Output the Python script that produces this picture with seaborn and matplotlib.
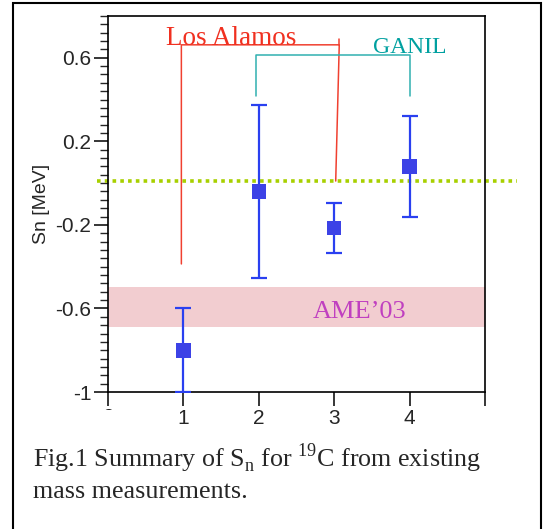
import numpy as np
import seaborn as sns
import matplotlib.pyplot as plt
from matplotlib.patches import Rectangle
from matplotlib.transforms import Bbox, TransformedBbox

# measurements (label index, Sn in MeV, error)
labs = [1, 2, 3, 4]
sn = [-0.80, -0.04, -0.215, 0.08]
err = [0.20, 0.415, 0.12, 0.24]

ame_lo, ame_hi = -0.69, -0.495   # AME'03 band
sn_ref = 0.01                    # dotted reference line

# bracket lines for the labels
la_x = [0.973, 0.973, 3.067, 3.02]
la_y = [-0.387, 0.662, 0.662, 0.01]
la_tip_y = 0.69
ga_x = [1.96, 1.96, 4.0, 4.0]
ga_y = [0.415, 0.614, 0.614, 0.415]

yticks = [0.6, 0.2, -0.2, -0.6, -1.0]
ytick_labels = ['0.6', '0.2', '-0.2', '-0.6', '-1']
xticks = [0, 1, 2, 3, 4, 5]
xtick_labels = ['', '1', '2', '3', '4', '']

sns.set_style('ticks')
plt.rcParams['font.family'] = ['Liberation Sans', 'DejaVu Sans']
plt.rcParams['mathtext.fontset'] = 'custom'
plt.rcParams['mathtext.rm'] = 'Liberation Serif'

fig = plt.figure(figsize=(5.52, 5.29), dpi=100)
ax = fig.add_axes([108 / 552, 1 - 392 / 529, 377 / 552, 376 / 529])

ax.axhspan(ame_lo, ame_hi, color='#f2cdd0', lw=0, zorder=1)
ax.plot([-0.15, 5.43], [sn_ref, sn_ref], color='#a8d000', lw=2.6,
        ls=(0, (1.0, 1.15)), dash_capstyle='butt', clip_on=False, zorder=2)

ax.errorbar(labs, sn, yerr=err, fmt='none', ecolor='#2a40f0', elinewidth=1.6,
            capsize=5.5, capthick=1.6, zorder=3)
sns.scatterplot(x=labs, y=sn, marker='s', s=110, color='#3c42e6',
                edgecolor='none', ax=ax, zorder=4)

ax.plot(la_x, la_y, color='#f04030', lw=1.1, zorder=2)
ax.plot([la_x[2], la_x[2]], [la_y[2], la_tip_y], color='#f04030', lw=1.1, zorder=2)
ax.plot(ga_x, ga_y, color='#30b0b0', lw=1.1, zorder=2)

ax.text(0.77, 0.662, 'Los Alamos', family='Liberation Serif', fontsize=19.5,
        color='#f03020', va='baseline', ha='left')
ax.text(4.0, 0.624, 'GANIL', family='Liberation Serif', fontsize=17,
        color='#00a0a0', va='baseline', ha='center')
ax.text(3.33, -0.648, 'AME\u201903', family='Liberation Serif', fontsize=19,
        color='#c040c0', va='baseline', ha='center')

ax.set_xlim(0, 5)
ax.set_ylim(-1.0, 0.8)
ax.set_xticks(xticks)
ax.set_xticklabels(xtick_labels)
ax.set_yticks(yticks)
ax.set_yticklabels(ytick_labels)
ax.set_yticks(np.arange(-1.0, 0.81, 0.04), minor=True)
ax.tick_params(axis='both', which='major', direction='out', length=10,
               width=1.1, labelsize=15, color='black', pad=2)
ax.tick_params(axis='y', which='minor', direction='out', length=6, width=1.0)
ax.set_ylabel('Sn [MeV]', fontsize=14, labelpad=4)
for s in ax.spines.values():
    s.set_linewidth(1.2)
    s.set_color('black')
    s.set_visible(True)

# cut off zero label like in the source figure
zero = ax.text(0, -0.042, '0', transform=ax.get_xaxis_transform(), fontsize=15,
               ha='center', va='top')
zero.set_clip_on(True)
zero.set_clip_box(TransformedBbox(Bbox([[0, 1 - 410 / 529], [1, 1]]), fig.transFigure))

fig.text(33 / 552, 1 - 467 / 529,
         'Fig.1 Summary of S$_\\mathrm{n}$ for $^\\mathrm{19}$C from existing',
         family='Liberation Serif', fontsize=18.7, va='baseline', ha='left')
fig.text(33 / 552, 1 - 498 / 529, 'mass measurements.',
         family='Liberation Serif', fontsize=18.7, va='baseline', ha='left')

fig.patches.append(Rectangle((13 / 552, -0.05), 528 / 552, 1.05 - 3 / 529,
                             transform=fig.transFigure, fill=False,
                             edgecolor='black', lw=1.5))

fig.savefig('out.png', dpi=100)
